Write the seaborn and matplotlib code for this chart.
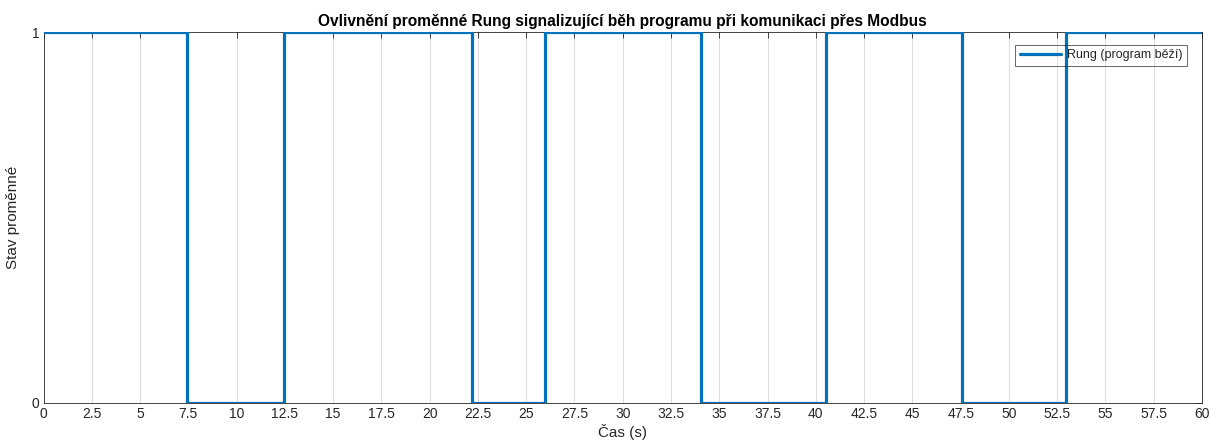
import numpy as np
import pandas as pd
import matplotlib
matplotlib.use("Agg")
import matplotlib.pyplot as plt
import seaborn as sns

# Data: step signal (state changes)
times = [0, 7.45, 12.45, 22.2, 25.95, 34.05, 40.55, 47.55, 52.95, 60]
states = [1, 0, 1, 0, 1, 0, 1, 0, 1, 1]
xticks = [0, 2.5, 5, 7.5, 10, 12.5, 15, 17.5, 20, 22.5, 25, 27.5, 30, 32.5, 35,
          37.5, 40, 42.5, 45, 47.5, 50, 52.5, 55, 57.5, 60]
yticks = [0, 1]
title = "Ovlivnění proměnné Rung signalizující běh programu při komunikaci přes Modbus"
xlabel = "Čas (s)"
ylabel = "Stav proměnné"
series_name = "Rung (program běží)"

sns.set_theme(style="white")
plt.rcParams['font.family'] = ['Liberation Sans', 'DejaVu Sans']

df = pd.DataFrame({"t": times, "s": states})

W, H = 1218, 445
fig = plt.figure(figsize=(W/100, H/100), dpi=100)
ax = fig.add_axes([43.5/W, 1 - 403/H, (1202 - 43.5)/W, (403 - 32)/H])

sns.lineplot(data=df, x="t", y="s", drawstyle="steps-post", color="#0072BD",
             linewidth=2.3, label=series_name, ax=ax, zorder=3)

ax.set_xlim(0, 60)
ax.set_ylim(0, 1)
ax.set_xticks(xticks)
ax.set_xticklabels([f"{v:g}" for v in xticks])
ax.set_yticks(yticks)
ax.grid(True, axis="x", color="#dcdcdc", linewidth=0.7)
ax.grid(False, axis="y")
ax.tick_params(direction="in", length=4, width=0.6, color="#262626",
               top=True, right=True, labelsize=10, labelcolor="#262626", pad=3)
for sp in ax.spines.values():
    sp.set_visible(True)
    sp.set_color("#262626")
    sp.set_linewidth(0.6)
ax.set_xlabel(xlabel, fontsize=11, color="#262626", labelpad=2)
ax.set_ylabel(ylabel, fontsize=11, color="#262626", labelpad=8)
ax.set_title(title, fontsize=11.2, fontweight="bold", color="#000000", pad=4)

leg = ax.legend(loc="upper right", fontsize=9, frameon=True, fancybox=False,
                edgecolor="#262626", facecolor="none", framealpha=None,
                bbox_to_anchor=(1187/W, 1 - 45/H), bbox_transform=fig.transFigure,
                borderaxespad=0, handlelength=3.3, handletextpad=0.5,
                borderpad=0.35)
leg.get_frame().set_linewidth(0.6)

fig.savefig("out.png", dpi=100)
